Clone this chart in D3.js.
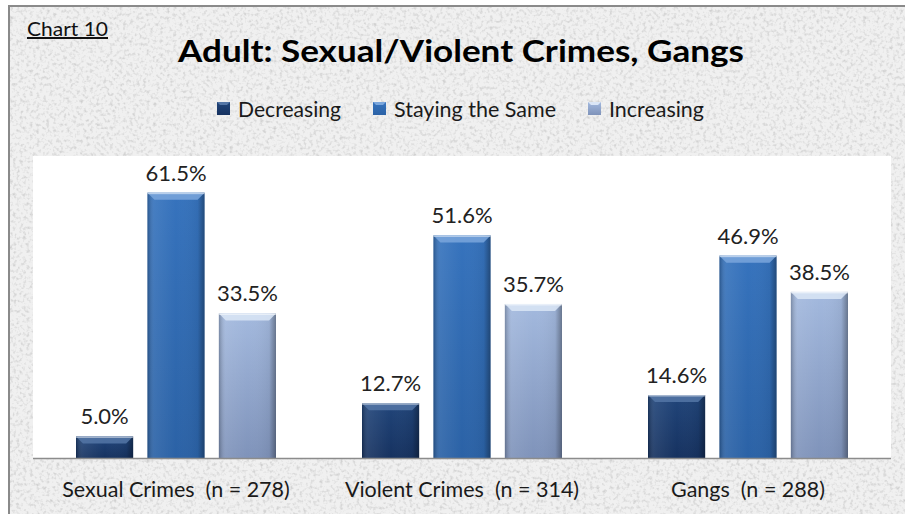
<!DOCTYPE html>
<html><head><meta charset="utf-8">
<script src="https://cdn.jsdelivr.net/npm/d3@7"></script>
<style>body{margin:0;background:#fff}svg{display:block}</style>
</head><body>
<script>
const categories = ["Sexual Crimes  (n = 278)", "Violent Crimes  (n = 314)", "Gangs  (n = 288)"];
const seriesNames = ["Decreasing", "Staying the Same", "Increasing"];
const decreasing = [5.0, 12.7, 14.6];
const staying = [61.5, 51.6, 46.9];
const increasing = [33.5, 35.7, 38.5];
const seriesValues = [decreasing, staying, increasing];
const title = "Adult: Sexual/Violent Crimes, Gangs";
const chartTag = "Chart 10";

const W = 905, H = 514;
const svg = d3.select("body").append("svg").attr("width", W).attr("height", H);
const defs = svg.append("defs");

const f = defs.append("filter").attr("id","speck").attr("x",0).attr("y",0).attr("width","100%").attr("height","100%");
f.append("feTurbulence").attr("type","fractalNoise").attr("baseFrequency","0.3").attr("numOctaves",2).attr("seed",3).attr("result","n");
f.append("feColorMatrix").attr("in","n").attr("type","matrix")
  .attr("values","0 0 0 0 0.62  0 0 0 0 0.62  0 0 0 0 0.62  0 0 0 -2.4 1.25").attr("result","c");
f.append("feComposite").attr("in","c").attr("in2","SourceGraphic").attr("operator","in");

const fonts = "Lato, 'Open Sans', 'Liberation Sans', sans-serif";

svg.append("rect").attr("x",0).attr("y",0).attr("width",W).attr("height",H).attr("fill","#fff");
svg.append("rect").attr("x",8).attr("y",5).attr("width",W-8).attr("height",H-5).attr("fill","#f0f0f0");
svg.append("rect").attr("x",8).attr("y",5).attr("width",W-8).attr("height",H-5).attr("fill","#f0f0f0").attr("filter","url(#speck)");
svg.append("path").attr("d",`M9,${H} V6 H${W}`).attr("fill","none").attr("stroke","#8a8a8a").attr("stroke-width",2);

const plot = {l:33, r:891, t:156, b:458};
svg.append("rect").attr("x",plot.l).attr("y",plot.t).attr("width",plot.r-plot.l).attr("height",plot.b-plot.t).attr("fill","#ffffff");

const x0 = d3.scaleBand().domain(categories).range([plot.l, plot.r]).padding(0);
const inner = 43;
const x1 = d3.scaleBand().domain(seriesNames).range([inner, x0.bandwidth()-inner]).paddingInner(0.2).paddingOuter(0);
const y = d3.scaleLinear().domain([0,70]).range([plot.b, plot.t]);

const colors = {
  "Decreasing": {main:["#173461","#21457a","#163260"], top:"#5476a6"},
  "Staying the Same": {main:["#2a62a8","#3673bd","#2b62a6"], top:"#7aa6dc"},
  "Increasing": {main:["#93a9d0","#a3b9de","#7f93ba"], top:"#dbe6f6"}
};
seriesNames.forEach((s,i)=>{
  const g = defs.append("linearGradient").attr("id","g"+i).attr("x1",0).attr("x2",0).attr("y1",0).attr("y2",1);
  g.append("stop").attr("offset","0").attr("stop-color",colors[s].main[1]);
  g.append("stop").attr("offset","1").attr("stop-color",colors[s].main[2]);
  const h = defs.append("linearGradient").attr("id","h"+i).attr("x1",0).attr("x2",1).attr("y1",0).attr("y2",0);
  h.append("stop").attr("offset","0").attr("stop-color","#000").attr("stop-opacity",0.25);
  h.append("stop").attr("offset","0.12").attr("stop-color","#fff").attr("stop-opacity",0.08);
  h.append("stop").attr("offset","0.5").attr("stop-color","#fff").attr("stop-opacity",0.0);
  h.append("stop").attr("offset","0.88").attr("stop-color","#000").attr("stop-opacity",0.05);
  h.append("stop").attr("offset","1").attr("stop-color","#000").attr("stop-opacity",0.35);
});

const data = [];
categories.forEach((c,ci)=>seriesNames.forEach((s,si)=>data.push({c, s, si, v: seriesValues[si][ci]})));

const bars = svg.append("g").selectAll("g").data(data).join("g")
  .attr("transform", d=>`translate(${x0(d.c)+x1(d.s)},0)`);
const bw = x1.bandwidth();
bars.append("rect").attr("x",0).attr("y",d=>y(d.v)).attr("width",bw).attr("height",d=>y(0)-y(d.v))
  .attr("fill",d=>`url(#g${d.si})`);
bars.append("rect").attr("x",0).attr("y",d=>y(d.v)).attr("width",bw).attr("height",d=>y(0)-y(d.v))
  .attr("fill",d=>`url(#h${d.si})`);
const bev = 7;
bars.append("path").attr("d",d=>{const t=y(d.v);return `M0,${t} H${bw} L${bw-bev},${t+bev} H${bev} Z`;})
  .attr("fill",d=>colors[d.s].top).attr("opacity",0.85);
bars.append("rect").attr("x",0).attr("y",d=>y(d.v)).attr("width",bw).attr("height",1.5).attr("fill","#fff").attr("opacity",0.5);
bars.append("text").attr("x",bw/2).attr("y",d=>y(d.v)-12).attr("text-anchor","middle")
  .attr("font-family",fonts).attr("font-size",22).attr("fill","#222")
  .text(d=>d.v.toFixed(1)+"%");

svg.append("line").attr("x1",plot.l).attr("x2",plot.r).attr("y1",plot.b+0.5).attr("y2",plot.b+0.5).attr("stroke","#8c8c8c").attr("stroke-width",1.5);

svg.append("g").selectAll("text").data(categories).join("text")
  .attr("x",d=>x0(d)+x0.bandwidth()/2).attr("y",497).attr("text-anchor","middle")
  .attr("font-family",fonts).attr("font-size",21.5).attr("fill","#1a1a1a")
  .style("white-space","pre")
  .text(d=>d);

svg.append("text").attr("x",461).attr("y",62).attr("text-anchor","middle")
  .attr("font-family",fonts).attr("font-weight","bold").attr("font-size",31).attr("fill","#000")
  .attr("textLength",566).attr("lengthAdjust","spacingAndGlyphs").text(title);
svg.append("text").attr("x",27).attr("y",36).attr("font-family",fonts).attr("font-size",20)
  .attr("fill","#111").attr("text-decoration","underline")
  .attr("textLength",81).attr("lengthAdjust","spacingAndGlyphs").text(chartTag);

const legX = [217, 373, 588];
const legLen = [103, 162, 95];
const leg = svg.append("g").selectAll("g").data(seriesNames).join("g")
  .attr("transform",(d,i)=>`translate(${legX[i]},0)`);
leg.append("rect").attr("x",0).attr("y",102).attr("width",13).attr("height",13).attr("fill",(d,i)=>`url(#g${i})`);
leg.append("path").attr("d","M0,102 H13 L10,105 H3 Z").attr("fill",d=>colors[d].top);
leg.append("text").attr("x",21).attr("y",117).attr("font-family",fonts).attr("font-size",21).attr("fill","#1a1a1a")
  .attr("textLength",(d,i)=>legLen[i]).attr("lengthAdjust","spacingAndGlyphs").text(d=>d);
</script>
</body></html>
